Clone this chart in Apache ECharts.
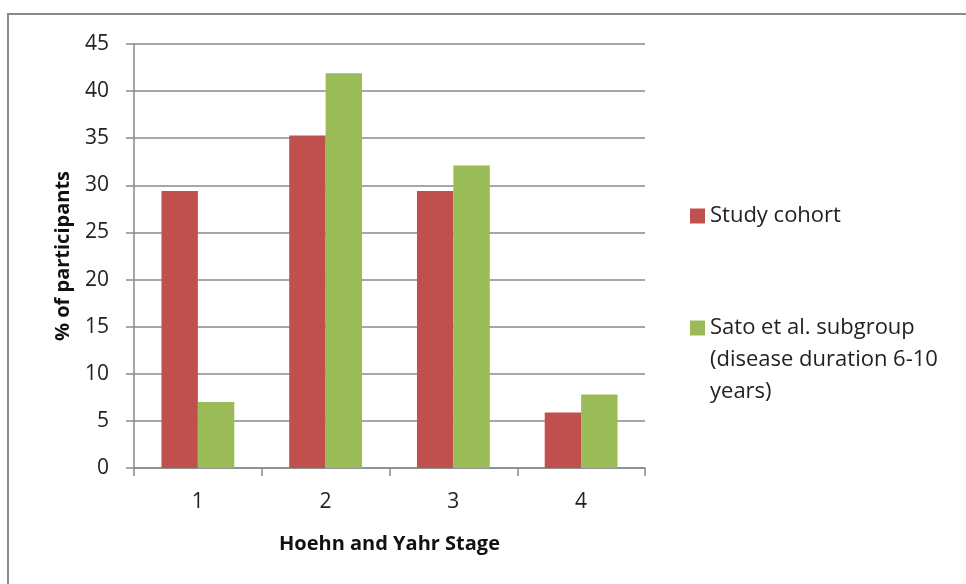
<!DOCTYPE html>
<html>
<head>
<meta charset="utf-8">
<script src="https://cdn.jsdelivr.net/npm/echarts@6/dist/echarts.min.js"></script>
<style>
html,body{margin:0;padding:0;background:#fff;}
#frame{position:absolute;left:7px;top:13px;width:980px;height:600px;border:2px solid #8a8a8a;box-sizing:border-box;}
#chart{position:absolute;left:0;top:0;width:966px;height:584px;}
</style>
</head>
<body>
<div id="frame"></div>
<div id="chart"></div>
<script>
const categories = ['1', '2', '3', '4'];
const studyCohort = [29.4, 35.3, 29.4, 5.9];
const satoSubgroup = [7.0, 41.9, 32.1, 7.8];
const seriesNames = ['Study cohort', 'Sato et al. subgroup (disease duration 6-10 years)'];
const legendLabels = ['Study cohort', 'Sato et al. subgroup\n(disease duration 6-10\nyears)'];
const yTicks = { min: 0, max: 45, interval: 5 };

const FONT = '"Open Sans", sans-serif';
const chart = echarts.init(document.getElementById('chart'), null, { renderer: 'canvas' });
chart.setOption({
  backgroundColor: 'transparent',
  animation: false,
  grid: { left: 134, right: 321, top: 44, bottom: 116 },
  legend: [
    {
      data: [seriesNames[0]],
      left: 690, top: 205, padding: 0,
      orient: 'vertical',
      itemWidth: 15, itemHeight: 15,
      icon: 'rect',
      formatter: () => legendLabels[0],
      textStyle: { fontFamily: FONT, fontSize: 22, color: '#222' }
    },
    {
      data: [seriesNames[1]],
      left: 690, top: 248, padding: 0,
      orient: 'vertical',
      itemWidth: 15, itemHeight: 15,
      icon: 'rect',
      // two blank lines above keep the first text line level with the icon
      formatter: () => '\n\n' + legendLabels[1],
      textStyle: { fontFamily: FONT, fontSize: 22, color: '#222', lineHeight: 32 }
    }
  ],
  xAxis: {
    type: 'category',
    data: categories,
    name: 'Hoehn and Yahr Stage',
    nameLocation: 'middle',
    nameGap: 66,
    nameTextStyle: { fontFamily: FONT, fontSize: 20, fontWeight: 'bold', color: '#111' },
    axisLine: { lineStyle: { color: '#8a8a8a', width: 1.5 } },
    axisTick: { show: true, length: 8, alignWithLabel: false, lineStyle: { color: '#8a8a8a', width: 1.5 } },
    axisLabel: { fontFamily: FONT, fontSize: 21, color: '#222', margin: 24 },
    splitLine: { show: false }
  },
  yAxis: {
    type: 'value',
    min: yTicks.min, max: yTicks.max, interval: yTicks.interval,
    name: '% of participants',
    nameLocation: 'middle',
    nameGap: 61,
    nameTextStyle: { fontFamily: FONT, fontSize: 20, fontWeight: 'bold', color: '#111' },
    axisLine: { show: true, lineStyle: { color: '#8a8a8a', width: 1.5 } },
    axisTick: { show: true, length: 8, lineStyle: { color: '#8a8a8a', width: 1.5 } },
    axisLabel: { fontFamily: FONT, fontSize: 21, color: '#222', margin: 25 },
    splitLine: { show: true, lineStyle: { color: '#8a8a8a', width: 1.5 } }
  },
  series: [
    {
      name: seriesNames[0], type: 'bar', data: studyCohort,
      barGap: '0%', barCategoryGap: '43%',
      itemStyle: { color: '#C0504D' }
    },
    {
      name: seriesNames[1], type: 'bar', data: satoSubgroup,
      barGap: '0%', barCategoryGap: '43%',
      itemStyle: { color: '#9BBB59' }
    }
  ]
});
</script>
</body>
</html>
